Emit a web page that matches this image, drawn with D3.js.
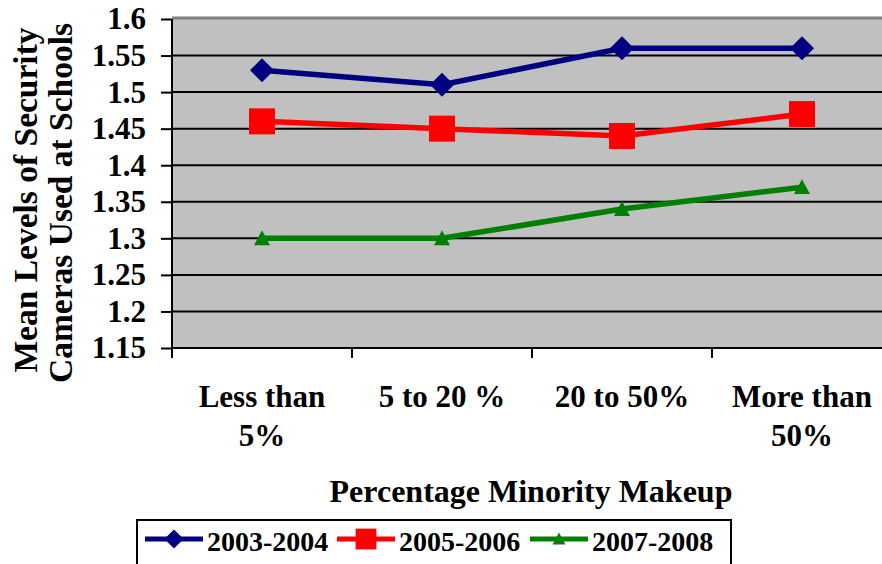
<!DOCTYPE html>
<html><head><meta charset="utf-8">
<script src="https://cdn.jsdelivr.net/npm/d3@7"></script>
<style>body{margin:0;background:#fff}svg{display:block}text{font-family:"Liberation Serif","Times New Roman",serif;font-weight:bold;fill:#000}</style>
</head><body><svg id="c" width="882" height="564"></svg>
<script>
const categories = [["Less than","5%"],["5 to 20 %"],["20 to 50%"],["More than","50%"]];
const seriesNames = ["2003-2004","2005-2006","2007-2008"];
const s2003 = [1.53,1.51,1.56,1.56];
const s2005 = [1.46,1.45,1.44,1.47];
const s2007 = [1.30,1.30,1.34,1.37];
const yTicks = [1.15,1.2,1.25,1.3,1.35,1.4,1.45,1.5,1.55,1.6];
const colors = ["#000080","#FF0000","#008000"];
const symbols = ["diamond","square","triangle"];

const svg = d3.select("#c");
const L=172, T=19, W=720, H=329;
const x = d3.scaleBand().domain(d3.range(4)).range([L,L+W]);
const y = d3.scaleLinear().domain([1.15,1.6]).range([T+H,T]);

svg.append("rect").attr("x",L).attr("y",T).attr("width",W).attr("height",H).attr("fill","#C0C0C0");
svg.append("line").attr("x1",L).attr("x2",L+W).attr("y1",T-1).attr("y2",T-1).attr("stroke","#808080").attr("stroke-width",3);
yTicks.slice(1,-1).forEach(v=>{
  svg.append("line").attr("x1",L).attr("x2",L+W).attr("y1",y(v)).attr("y2",y(v)).attr("stroke","#000").attr("stroke-width",2);
});
const ya = svg.append("g").attr("transform",`translate(${L},0)`).call(d3.axisLeft(y).tickValues(yTicks).tickSize(11).tickPadding(15).tickFormat(d=>String(+d.toFixed(2))));
ya.select(".domain").remove();
ya.selectAll("line").attr("stroke","#000").attr("stroke-width",2);
ya.selectAll("text").style("font-size","31px").style("font-family","Liberation Serif").style("font-weight","bold").attr("fill","#000");
svg.append("line").attr("x1",L).attr("x2",L).attr("y1",T).attr("y2",T+H).attr("stroke","#000").attr("stroke-width",2);
svg.append("line").attr("x1",L).attr("x2",L+W).attr("y1",T+H).attr("y2",T+H).attr("stroke","#000").attr("stroke-width",2);
d3.range(5).forEach(i=>{
  const xx = L + i*x.step();
  svg.append("line").attr("x1",xx).attr("x2",xx).attr("y1",T+H).attr("y2",T+H+10).attr("stroke","#000").attr("stroke-width",2);
});
categories.forEach((c,i)=>{
  const cx = x(i)+x.bandwidth()/2;
  c.forEach((line,j)=>{
    svg.append("text").attr("x",cx).attr("y",407+j*39).attr("text-anchor","middle").style("font-size","31px").text(line);
  });
});
svg.append("text").attr("x",531).attr("y",502).attr("text-anchor","middle").style("font-size","32px").text("Percentage Minority Makeup");
svg.append("text").attr("transform",`translate(37,200) rotate(-90)`).attr("text-anchor","middle").style("font-size","33.5px").text("Mean Levels of Security");
svg.append("text").attr("transform",`translate(72,203) rotate(-90)`).attr("text-anchor","middle").style("font-size","33.5px").text("Cameras Used at Schools");

const data = [s2003,s2005,s2007];
function sym(type, g, cx, cy, color, scale){
  scale = scale||1;
  if(type==="diamond"){
    const r=12*scale;
    g.append("path").attr("d",`M${cx},${cy-r}L${cx+r},${cy}L${cx},${cy+r}L${cx-r},${cy}Z`).attr("fill",color);
  } else if(type==="square"){
    const r=13*scale;
    g.append("rect").attr("x",cx-r).attr("y",cy-r).attr("width",2*r).attr("height",2*r).attr("fill",color);
  } else {
    const r=8*scale;
    g.append("path").attr("d",`M${cx},${cy-r}L${cx+r},${cy+r*0.85}L${cx-r},${cy+r*0.85}Z`).attr("fill",color);
  }
}
const line = d3.line().x((d,i)=>x(i)+x.bandwidth()/2).y(d=>y(d));
data.forEach((s,k)=>{
  svg.append("path").datum(s).attr("d",line).attr("fill","none").attr("stroke",colors[k]).attr("stroke-width",5.5);
  s.forEach((v,i)=>sym(symbols[k], svg, x(i)+x.bandwidth()/2, y(v), colors[k]));
});
svg.append("rect").attr("x",137).attr("y",520).attr("width",594).attr("height",60).attr("fill","#fff").attr("stroke","#000").attr("stroke-width",2);
const lx=[145,337,530];
seriesNames.forEach((n,k)=>{
  svg.append("line").attr("x1",lx[k]).attr("x2",lx[k]+58).attr("y1",539).attr("y2",539).attr("stroke",colors[k]).attr("stroke-width",5);
  sym(symbols[k], svg, lx[k]+29, 539, colors[k], 0.8);
  svg.append("text").attr("x",lx[k]+62).attr("y",551).style("font-size","28px").text(n);
});
</script></body></html>
